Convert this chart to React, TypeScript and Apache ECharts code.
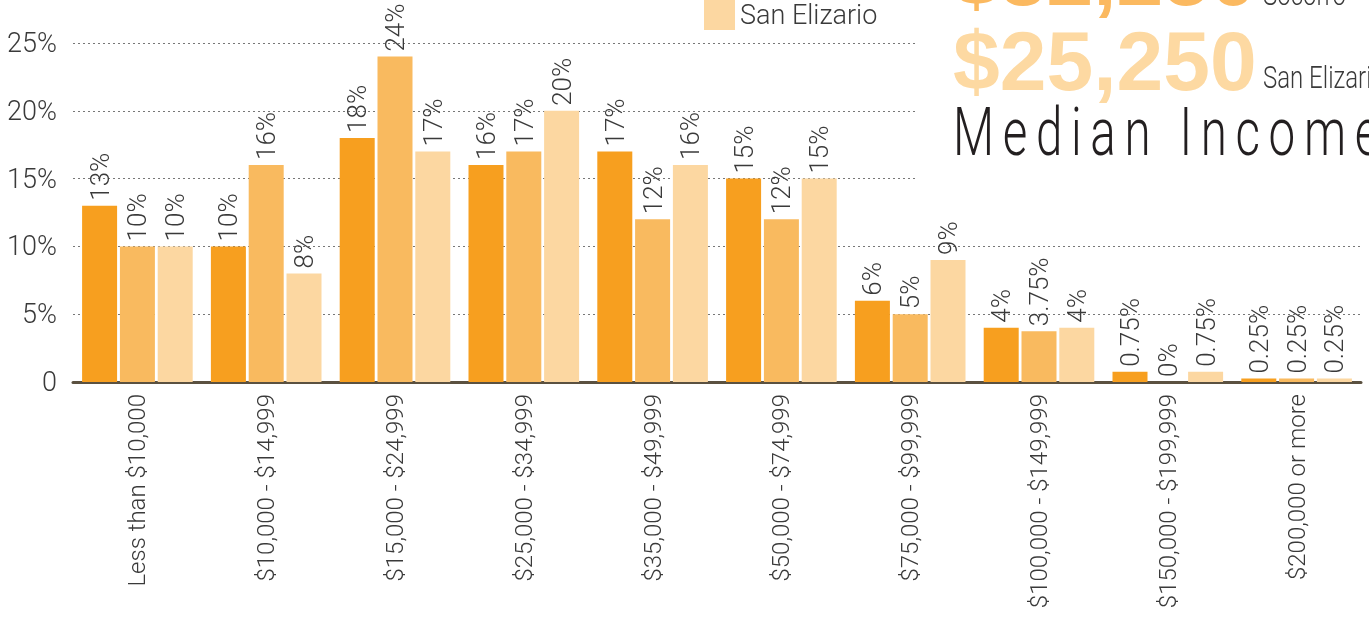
import React, { useEffect, useRef } from "react";
import * as echarts from "echarts";

const categories = [
  "Less than $10,000",
  "$10,000 - $14,999",
  "$15,000 - $24,999",
  "$25,000 - $34,999",
  "$35,000 - $49,999",
  "$50,000 - $74,999",
  "$75,000 - $99,999",
  "$100,000 - $149,999",
  "$150,000 - $199,999",
  "$200,000 or more",
];
const seriesNames = ["El Paso County", "Socorro", "San Elizario"];
const elPaso = [13, 10, 18, 16, 17, 15, 6, 4, 0.75, 0.25];
const socorro = [10, 16, 24, 17, 12, 12, 5, 3.75, 0, 0.25];
const sanElizario = [10, 8, 17, 20, 16, 15, 9, 4, 0.75, 0.25];
const yTicks = [0, 5, 10, 15, 20, 25];
const medianSocorro = "$32,250";
const medianSanElizario = "$25,250";

const colors = ["#F79F1F", "#F9BA5F", "#FCD7A1"];
const FONT = "Roboto, 'DejaVu Sans Condensed', sans-serif";
const W = 300;
const TXT = "#3a3a3a";

export default function App() {
  const ref = useRef<HTMLDivElement>(null);
  useEffect(() => {
    if (!ref.current) return;
    const chart = echarts.init(ref.current, null, { renderer: "svg" });
    const data = [elPaso, socorro, sanElizario];
    chart.setOption({
      animation: false,
      textStyle: { fontFamily: FONT, fontWeight: W },
      grid: {
        left: 73,
        right: 8,
        top: 43,
        bottom: 242,
        containLabel: false,
        outerBoundsMode: "none",
      },
      legend: {
        orient: "vertical",
        left: 699,
        top: -93,
        itemWidth: 31,
        itemHeight: 30,
        itemGap: 14,
        icon: "rect",
        data: seriesNames,
        textStyle: { fontFamily: FONT, fontWeight: W, fontSize: 27, color: TXT, lineHeight: 30 },
      },
      xAxis: {
        type: "category",
        data: categories,
        axisTick: { show: false },
        axisLine: { lineStyle: { color: "#5b5140", width: 3 } },
        axisLabel: {
          interval: 0,
          rotate: 90,
          margin: 12,
          fontSize: 24,
          fontWeight: W,
          color: TXT,
          fontFamily: FONT,
        },
      },
      yAxis: {
        type: "value",
        min: yTicks[0],
        max: yTicks[yTicks.length - 1],
        interval: 5,
        axisLine: { show: false },
        axisTick: { show: false },
        splitLine: { lineStyle: { color: "#777", type: [2, 3], width: 1 } },
        axisLabel: {
          margin: 16,
          fontSize: 27,
          fontWeight: W,
          color: TXT,
          fontFamily: FONT,
          formatter: (v: number) => (v === 0 ? "0" : v + "%"),
        },
      },
      series: seriesNames.map((name, i) => ({
        name,
        type: "bar",
        data: data[i],
        barWidth: 35,
        barGap: "8%",
        itemStyle: { color: colors[i] },
        label: {
          show: true,
          position: "top",
          rotate: 90,
          align: "left",
          verticalAlign: "middle",
          distance: 5,
          fontSize: 26,
          fontWeight: W,
          color: TXT,
          fontFamily: FONT,
          formatter: (p: any) => p.value + "%",
        },
      })),
      graphic: [
        {
          type: "rect",
          z: 1,
          shape: { x: 916, y: 0, width: 460, height: 200 },
          style: { fill: "#ffffff" },
        },
        {
          type: "text",
          z: 10,
          x: 953,
          y: -24,
          style: {
            text: medianSocorro,
            fontFamily: "'Liberation Sans', sans-serif",
            fontWeight: "bold",
            fontSize: 84,
            fill: "#FBB960",
            verticalAlign: "middle",
          },
        },
        {
          type: "text",
          z: 10,
          x: 1263,
          y: -6,
          scaleX: 0.75,
          style: {
            text: "Socorro",
            fontFamily: FONT,
            fontWeight: W,
            fontSize: 32,
            fill: TXT,
            verticalAlign: "middle",
          },
        },
        {
          type: "text",
          z: 10,
          x: 953,
          y: 61,
          style: {
            text: medianSanElizario,
            fontFamily: "'Liberation Sans', sans-serif",
            fontWeight: "bold",
            fontSize: 84,
            fill: "#FDD9A2",
            verticalAlign: "middle",
          },
        },
        {
          type: "text",
          z: 10,
          x: 1263,
          y: 77,
          scaleX: 0.75,
          style: {
            text: "San Elizario",
            fontFamily: FONT,
            fontWeight: W,
            fontSize: 32,
            fill: TXT,
            verticalAlign: "middle",
          },
        },
        {
          type: "text",
          z: 10,
          x: 953,
          y: 133,
          scaleX: 0.72,
          style: {
            text: "Median Income",
            fontFamily: FONT,
            fontWeight: W,
            fontSize: 66,
            fill: "#231f20",
            verticalAlign: "middle",
          },
        },
      ],
    });
    const texts = ref.current.querySelectorAll("text");
    texts.forEach((t) => {
      if (t.textContent === "Median Income") {
        t.setAttribute("letter-spacing", "12");
      }
    });
    return () => chart.dispose();
  }, []);
  return (
    <div
      ref={ref}
      style={{ position: "fixed", left: 0, top: 0, width: 1369, height: 624 }}
    />
  );
}
